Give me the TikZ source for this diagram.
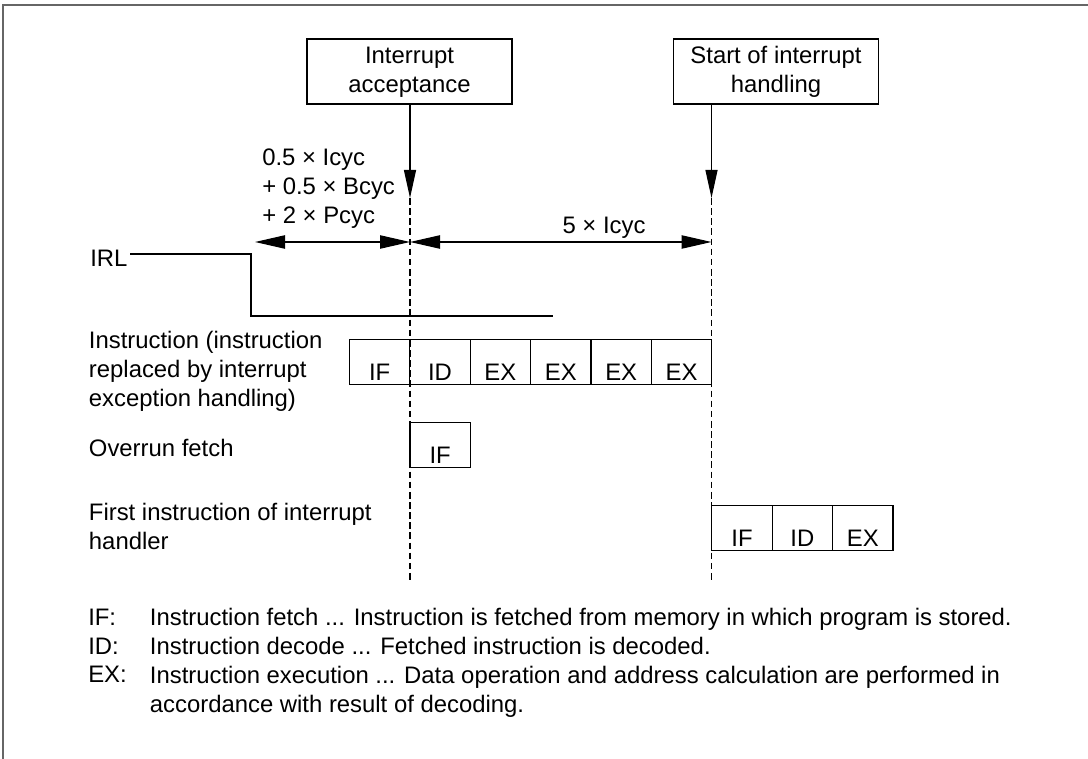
\documentclass[tikz,border=0pt]{standalone}
\usepackage{fontspec}
\setmainfont{Liberation Sans}
\usetikzlibrary{arrows.meta,positioning}
\begin{document}
\begin{tikzpicture}[x=0.75pt,y=-0.75pt,
  every node/.style={font=\fontsize{17.9}{21.7}\selectfont, inner sep=0pt},
  ln/.style={line width=0.9pt, draw=black},
  frame/.style={line width=1pt, draw=black!60},
  evbox/.style={draw, line width=0.9pt, minimum width=205*0.75pt, minimum height=65*0.75pt, align=center},
  cell/.style={draw, line width=0.9pt, outer sep=0pt, minimum width=60.4*0.75pt, minimum height=45*0.75pt, text height=27.5pt, text depth=0pt},
  tip/.style={-{Triangle[length=21pt,width=9pt]}},
  dim/.style={{Triangle[length=22.5pt,width=10pt]}-{Triangle[length=22.5pt,width=10pt]}},
  guide/.style={line width=0.9pt, dash pattern=on 5pt off 2.6pt},
  txt/.style={anchor=north west, align=left},
]
\useasboundingbox (0,0) rectangle (1088,759);
% frame
\draw[frame] (3,759) -- (3,5) -- (1088,5);

% event boxes
\node[evbox] (acc) at (409.5,71.5) {\rule{0pt}{14pt}Interrupt\\acceptance};
\node[evbox] (start) at (776,71.5) {\rule{0pt}{14pt}Start of interrupt\\handling};

% guide coordinates
\coordinate (g1t) at (410,198);
\coordinate (g1b) at (410,581);
\coordinate (g2t) at (711.5,198);
\coordinate (g2b) at (711.5,581);
\draw[ln,tip] (acc.south -| g1t) -- (g1t);
\draw[ln,tip] (start.south -| g2t) -- (g2t);
\draw[guide] (g1t) -- (g1b);
\draw[guide] (g2t) -- (g2b);

% dimensions
\coordinate (dL) at (255,242);
\coordinate (dM) at (410,242);
\coordinate (dR) at (711.5,242);
\draw[ln,dim] (dL) -- (dM);
\draw[ln,dim] (dM) -- (dR);
\node[txt] (lat) at (262,149) {0.5 × Icyc\\+ 0.5 × Bcyc\\+ 2 × Pcyc};
\node[anchor=base] (five) at (604,233.3) {5 × Icyc};

% IRL
\node[anchor=base west] (irl) at (90,267) {IRL};
\coordinate (r0) at (130,254);
\coordinate (r1) at (251,316);
\coordinate (r2) at (553,316);
\draw[ln] (r0) -| (r1) -- (r2);

% instruction row
\node[txt] (ins) at (88.7,331.4) {Instruction (instruction\\replaced by interrupt\\exception handling)};
\node[cell] (i1) at (379.6,361.7) {IF};
\node[cell, right=0pt of i1] (i2) {ID};
\node[cell, right=0pt of i2] (i3) {EX};
\node[cell, right=0pt of i3] (i4) {EX};
\node[cell, right=0pt of i4] (i5) {EX};
\node[cell, right=0pt of i5] (i6) {EX};

% overrun fetch
\node[anchor=base west] (ovl) at (88.7,456.7) {Overrun fetch};
\node[cell] (o1) at (440.2,445.2) {IF};

% first instruction of handler
\node[txt] (fil) at (88.7,502.6) {First instruction of interrupt\\handler};
\node[cell] (h1) at (742,528) {IF};
\node[cell, right=0pt of h1] (h2) {ID};
\node[cell, right=0pt of h2] (h3) {EX};

% legend
\node[anchor=base west] (kif) at (88,625) {IF:};
\node[anchor=base west] (dif) at (149.7,625) {Instruction fetch ... Instruction is fetched from memory in which program is stored.};
\node[anchor=base west] (kid) at (88,654) {ID:};
\node[anchor=base west] (did) at (149.7,654) {Instruction decode ... Fetched instruction is decoded.};
\node[anchor=base west] (kex) at (88,682.7) {EX:};
\node[txt] (dex) at (149.7,665.6) {Instruction execution ... Data operation and address calculation are performed in\\accordance with result of decoding.};
\end{tikzpicture}
\end{document}
